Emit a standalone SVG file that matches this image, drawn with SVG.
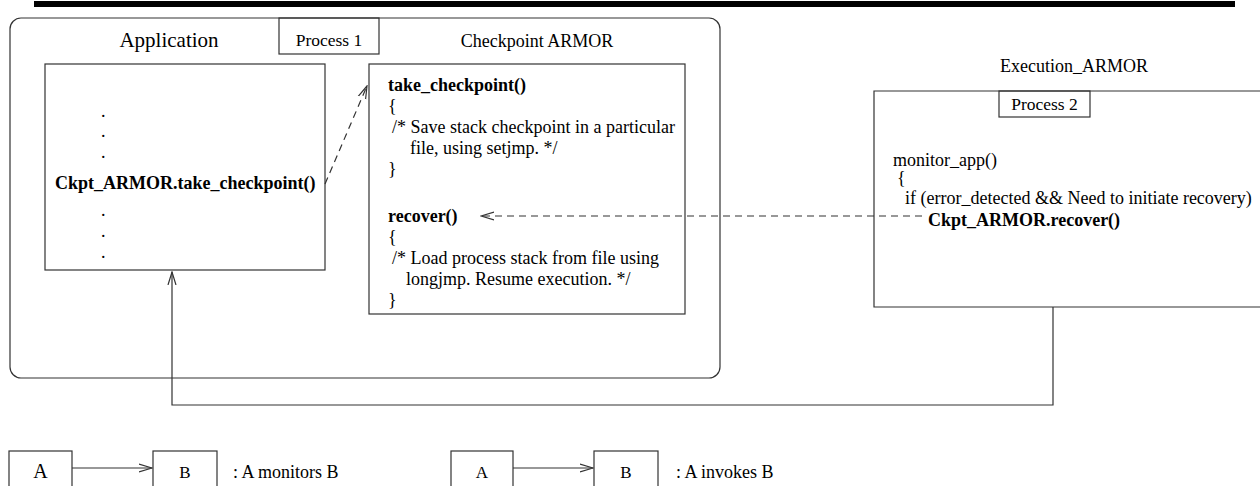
<svg xmlns="http://www.w3.org/2000/svg" width="1260" height="486" viewBox="0 0 1260 486">
<defs>
<style>
.t{font-family:"Liberation Serif","Times New Roman",serif;font-size:18px;fill:#000}
.b{font-weight:bold}
.box{fill:none;stroke:#333;stroke-width:1.2}
.ln{fill:none;stroke:#333;stroke-width:1.2}
.dash{fill:none;stroke:#333;stroke-width:1.2;stroke-dasharray:7 5}
</style>
<marker id="open" viewBox="0 0 14 10" refX="13" refY="5" markerWidth="14" markerHeight="10" markerUnits="userSpaceOnUse" orient="auto">
<path d="M0,1 L13,5 L0,9" fill="none" stroke="#333" stroke-width="1.2"/>
</marker>
</defs>
<rect x="34" y="1" width="1201" height="6" fill="#000"/>
<g id="process1">
<rect class="box" x="10" y="18" width="710" height="360" rx="11" ry="11"/>
<rect class="box" x="279" y="18" width="100" height="36"/>
<text class="t" x="329" y="46" text-anchor="middle" style="font-size:17.5px">Process 1</text>
<text class="t" x="169" y="47" text-anchor="middle" style="font-size:21px">Application</text>
<text class="t" x="537" y="47" text-anchor="middle">Checkpoint ARMOR</text>
</g>
<g id="application">
<rect class="box" x="45" y="64" width="280" height="206"/>
<text class="t" x="101" y="117">.</text>
<text class="t" x="101" y="137">.</text>
<text class="t" x="101" y="158">.</text>
<text class="t b" x="55" y="189">Ckpt_ARMOR.take_checkpoint()</text>
<text class="t" x="101" y="216">.</text>
<text class="t" x="101" y="237">.</text>
<text class="t" x="101" y="258">.</text>
</g>
<g id="checkpoint-armor">
<rect class="box" x="369" y="64" width="316" height="250"/>
<text class="t b" x="388" y="91">take_checkpoint()</text>
<text class="t" x="388" y="112">{</text>
<text class="t" x="392" y="133">/* Save stack checkpoint in a particular</text>
<text class="t" x="410" y="154">file, using setjmp. */</text>
<text class="t" x="388" y="175">}</text>
<text class="t b" x="388" y="222">recover()</text>
<text class="t" x="388" y="243">{</text>
<text class="t" x="392" y="264">/* Load process stack from file using</text>
<text class="t" x="406" y="285">longjmp. Resume execution. */</text>
<text class="t" x="388" y="306">}</text>
</g>
<g id="execution-armor">
<text class="t" x="1074" y="72" text-anchor="middle">Execution_ARMOR</text>
<path class="box" d="M1262,91 H874 V307 H1262"/>
<rect class="box" x="999" y="91" width="91" height="26"/>
<text class="t" x="1044.5" y="110" text-anchor="middle" style="font-size:17.5px">Process 2</text>
<text class="t" x="893" y="166">monitor_app()</text>
<text class="t" x="897" y="184">{</text>
<text class="t" x="905" y="204">if (error_detected &amp;&amp; Need to initiate recovery)</text>
<text class="t b" x="928" y="226">Ckpt_ARMOR.recover()</text>
</g>
<g id="connectors">
<path class="dash" d="M325,184 L367,86" marker-end="url(#open)"/>
<path class="dash" d="M922,216 L481,216" marker-end="url(#open)"/>
<path class="ln" d="M1053,307 V405 H172 V272" marker-end="url(#open)"/>
</g>
<g id="legend-monitors">
<rect class="box" x="9" y="451" width="63" height="50"/>
<text class="t" x="40.5" y="478" text-anchor="middle" style="font-size:20px">A</text>
<rect class="box" x="153" y="451" width="64" height="50"/>
<text class="t" x="185" y="478" text-anchor="middle" style="font-size:17px">B</text>
<path class="ln" d="M72,468 H152" marker-end="url(#open)"/>
<text class="t" x="233" y="478">: A monitors B</text>
</g>
<g id="legend-invokes">
<rect class="box" x="451" y="451" width="62" height="50"/>
<text class="t" x="482" y="478" text-anchor="middle" style="font-size:17px">A</text>
<rect class="box" x="594" y="451" width="64" height="50"/>
<text class="t" x="626" y="478" text-anchor="middle" style="font-size:17px">B</text>
<path class="ln" d="M513,468 H593" marker-end="url(#open)"/>
<text class="t" x="676" y="478">: A invokes B</text>
</g>
</svg>
